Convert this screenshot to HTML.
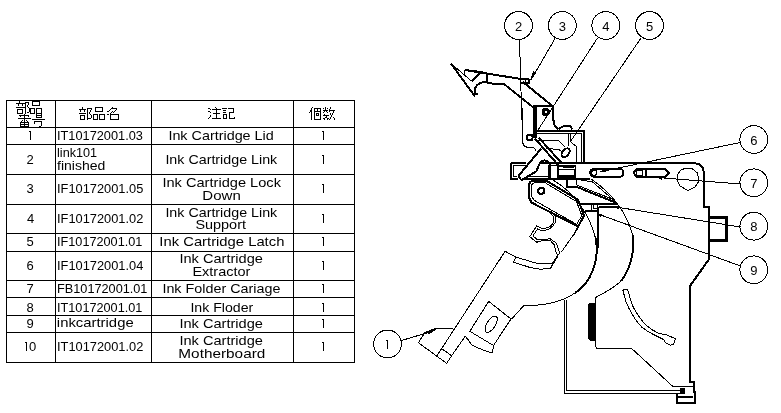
<!DOCTYPE html>
<html><head><meta charset="utf-8"><style>
html,body{margin:0;padding:0;background:#fff;width:781px;height:413px;overflow:hidden}
svg{display:block;will-change:transform}
text{font-family:"Liberation Sans",sans-serif;font-size:13px;fill:#000}
</style></head><body>
<svg width="781" height="413" viewBox="0 0 781 413">
<g fill="#000" shape-rendering="crispEdges">
<rect x="6" y="100" width="1" height="263"/>
<rect x="55" y="100" width="1" height="263"/>
<rect x="151" y="100" width="1" height="263"/>
<rect x="293" y="100" width="1" height="263"/>
<rect x="354" y="100" width="1" height="263"/>
<rect x="6" y="100" width="349" height="1"/>
<rect x="6" y="127" width="349" height="1"/>
<rect x="6" y="144" width="349" height="1"/>
<rect x="6" y="174" width="349" height="1"/>
<rect x="6" y="204" width="349" height="1"/>
<rect x="6" y="233" width="349" height="1"/>
<rect x="6" y="251" width="349" height="1"/>
<rect x="6" y="280" width="349" height="1"/>
<rect x="6" y="297" width="349" height="1"/>
<rect x="6" y="315" width="349" height="1"/>
<rect x="6" y="332" width="349" height="1"/>
<rect x="6" y="362" width="349" height="1"/>
<rect x="82" y="107" width="1" height="2"/>
<rect x="79" y="109" width="7" height="1"/>
<rect x="80" y="110" width="1" height="2"/>
<rect x="84" y="110" width="1" height="2"/>
<rect x="79" y="113" width="7" height="1"/>
<rect x="80" y="115" width="1" height="5"/>
<rect x="84" y="115" width="1" height="5"/>
<rect x="80" y="115" width="5" height="1"/>
<rect x="80" y="119" width="5" height="1"/>
<rect x="87" y="108" width="1" height="12"/>
<rect x="87" y="108" width="4" height="1"/>
<rect x="91" y="108" width="1" height="2"/>
<rect x="90" y="110" width="1" height="2"/>
<rect x="89" y="112" width="1" height="2"/>
<rect x="90" y="114" width="1" height="1"/>
<rect x="91" y="115" width="1" height="3"/>
<rect x="90" y="118" width="1" height="1"/>
<rect x="88" y="118" width="2" height="1"/>
<rect x="95" y="107" width="8" height="1"/>
<rect x="95" y="107" width="1" height="5"/>
<rect x="102" y="107" width="1" height="5"/>
<rect x="95" y="111" width="8" height="1"/>
<rect x="93" y="114" width="5" height="1"/>
<rect x="93" y="114" width="1" height="6"/>
<rect x="97" y="114" width="1" height="6"/>
<rect x="93" y="119" width="5" height="1"/>
<rect x="99" y="114" width="6" height="1"/>
<rect x="99" y="114" width="1" height="6"/>
<rect x="104" y="114" width="1" height="6"/>
<rect x="99" y="119" width="6" height="1"/>
<rect x="112" y="107" width="1" height="1"/>
<rect x="111" y="108" width="1" height="1"/>
<rect x="110" y="109" width="1" height="1"/>
<rect x="109" y="110" width="1" height="1"/>
<rect x="112" y="108" width="5" height="1"/>
<rect x="116" y="109" width="1" height="1"/>
<rect x="115" y="110" width="1" height="1"/>
<rect x="114" y="111" width="1" height="1"/>
<rect x="107" y="111" width="2" height="1"/>
<rect x="112" y="111" width="1" height="1"/>
<rect x="113" y="112" width="1" height="1"/>
<rect x="111" y="112" width="1" height="1"/>
<rect x="110" y="113" width="1" height="1"/>
<rect x="107" y="114" width="2" height="1"/>
<rect x="110" y="114" width="9" height="1"/>
<rect x="110" y="114" width="1" height="6"/>
<rect x="118" y="114" width="1" height="6"/>
<rect x="110" y="119" width="9" height="1"/>
<rect x="208" y="108" width="2" height="1"/>
<rect x="210" y="109" width="1" height="1"/>
<rect x="208" y="111" width="2" height="1"/>
<rect x="210" y="112" width="1" height="1"/>
<rect x="208" y="118" width="1" height="1"/>
<rect x="209" y="117" width="1" height="1"/>
<rect x="210" y="115" width="1" height="2"/>
<rect x="215" y="107" width="1" height="1"/>
<rect x="216" y="108" width="1" height="1"/>
<rect x="212" y="109" width="9" height="1"/>
<rect x="216" y="109" width="1" height="10"/>
<rect x="213" y="113" width="7" height="1"/>
<rect x="212" y="118" width="9" height="1"/>
<rect x="222" y="108" width="5" height="1"/>
<rect x="223" y="110" width="3" height="1"/>
<rect x="223" y="112" width="3" height="1"/>
<rect x="223" y="114" width="4" height="1"/>
<rect x="223" y="114" width="1" height="5"/>
<rect x="226" y="114" width="1" height="5"/>
<rect x="223" y="118" width="4" height="1"/>
<rect x="228" y="108" width="6" height="1"/>
<rect x="233" y="108" width="1" height="5"/>
<rect x="229" y="112" width="5" height="1"/>
<rect x="229" y="112" width="1" height="7"/>
<rect x="229" y="118" width="5" height="1"/>
<rect x="234" y="117" width="1" height="2"/>
<rect x="312" y="107" width="1" height="1"/>
<rect x="311" y="108" width="1" height="2"/>
<rect x="310" y="110" width="1" height="2"/>
<rect x="309" y="112" width="1" height="1"/>
<rect x="311" y="110" width="1" height="10"/>
<rect x="314" y="108" width="7" height="1"/>
<rect x="314" y="108" width="1" height="12"/>
<rect x="320" y="108" width="1" height="12"/>
<rect x="314" y="119" width="7" height="1"/>
<rect x="315" y="111" width="5" height="1"/>
<rect x="317" y="109" width="1" height="3"/>
<rect x="316" y="113" width="3" height="1"/>
<rect x="316" y="113" width="1" height="3"/>
<rect x="318" y="113" width="1" height="3"/>
<rect x="316" y="115" width="3" height="1"/>
<rect x="323" y="108" width="1" height="1"/>
<rect x="327" y="108" width="1" height="1"/>
<rect x="325" y="107" width="1" height="4"/>
<rect x="323" y="110" width="5" height="1"/>
<rect x="324" y="111" width="1" height="1"/>
<rect x="326" y="111" width="1" height="1"/>
<rect x="323" y="112" width="1" height="1"/>
<rect x="327" y="112" width="1" height="1"/>
<rect x="324" y="114" width="1" height="1"/>
<rect x="323" y="115" width="6" height="1"/>
<rect x="326" y="115" width="1" height="3"/>
<rect x="325" y="117" width="1" height="1"/>
<rect x="323" y="118" width="2" height="1"/>
<rect x="327" y="118" width="2" height="1"/>
<rect x="324" y="119" width="1" height="1"/>
<rect x="327" y="119" width="1" height="1"/>
<rect x="330" y="107" width="1" height="2"/>
<rect x="329" y="109" width="1" height="3"/>
<rect x="330" y="110" width="5" height="1"/>
<rect x="333" y="111" width="1" height="2"/>
<rect x="332" y="113" width="1" height="2"/>
<rect x="330" y="113" width="1" height="2"/>
<rect x="331" y="115" width="1" height="2"/>
<rect x="330" y="117" width="1" height="2"/>
<rect x="333" y="117" width="1" height="1"/>
<rect x="329" y="119" width="1" height="1"/>
<rect x="334" y="118" width="1" height="2"/>
<rect x="19" y="101" width="1" height="2"/>
<rect x="16" y="103" width="9" height="1"/>
<rect x="18" y="104" width="1" height="2"/>
<rect x="22" y="104" width="1" height="2"/>
<rect x="16" y="107" width="9" height="1"/>
<rect x="17" y="109" width="6" height="1"/>
<rect x="17" y="113" width="6" height="1"/>
<rect x="17" y="109" width="1" height="5"/>
<rect x="22" y="109" width="1" height="5"/>
<rect x="25" y="102" width="1" height="12"/>
<rect x="25" y="102" width="4" height="1"/>
<rect x="28" y="103" width="1" height="2"/>
<rect x="27" y="105" width="1" height="2"/>
<rect x="28" y="107" width="1" height="1"/>
<rect x="29" y="108" width="1" height="4"/>
<rect x="27" y="112" width="2" height="1"/>
<rect x="32" y="101" width="8" height="1"/>
<rect x="32" y="105" width="8" height="1"/>
<rect x="32" y="101" width="1" height="5"/>
<rect x="39" y="101" width="1" height="5"/>
<rect x="30" y="108" width="5" height="1"/>
<rect x="30" y="108" width="1" height="6"/>
<rect x="34" y="108" width="1" height="6"/>
<rect x="30" y="113" width="5" height="1"/>
<rect x="36" y="108" width="6" height="1"/>
<rect x="36" y="108" width="1" height="9"/>
<rect x="41" y="108" width="1" height="9"/>
<rect x="36" y="113" width="6" height="1"/>
<rect x="36" y="115" width="6" height="1"/>
<rect x="36" y="117" width="6" height="1"/>
<rect x="19" y="115" width="10" height="1"/>
<rect x="20" y="116" width="1" height="1"/>
<rect x="28" y="116" width="1" height="1"/>
<rect x="18" y="118" width="13" height="1"/>
<rect x="24" y="114" width="1" height="8"/>
<rect x="22" y="120" width="1" height="1"/>
<rect x="21" y="121" width="1" height="1"/>
<rect x="26" y="120" width="1" height="1"/>
<rect x="27" y="121" width="1" height="1"/>
<rect x="20" y="122" width="9" height="1"/>
<rect x="20" y="122" width="1" height="5"/>
<rect x="28" y="122" width="1" height="5"/>
<rect x="20" y="124" width="9" height="1"/>
<rect x="24" y="122" width="1" height="5"/>
<rect x="20" y="126" width="9" height="1"/>
<rect x="32" y="119" width="13" height="1"/>
<rect x="34" y="121" width="8" height="1"/>
<rect x="34" y="121" width="1" height="3"/>
<rect x="41" y="122" width="1" height="4"/>
<rect x="39" y="126" width="2" height="1"/>
<rect x="30" y="131" width="1" height="9"/><rect x="29" y="131" width="1" height="1"/>
<rect x="323" y="131" width="1" height="9"/><rect x="322" y="131" width="1" height="1"/>
<rect x="323" y="155" width="1" height="9"/><rect x="322" y="155" width="1" height="1"/>
<rect x="323" y="184" width="1" height="9"/><rect x="322" y="184" width="1" height="1"/>
<rect x="323" y="214" width="1" height="9"/><rect x="322" y="214" width="1" height="1"/>
<rect x="323" y="237" width="1" height="9"/><rect x="322" y="237" width="1" height="1"/>
<rect x="323" y="261" width="1" height="9"/><rect x="322" y="261" width="1" height="1"/>
<rect x="323" y="284" width="1" height="9"/><rect x="322" y="284" width="1" height="1"/>
<rect x="323" y="303" width="1" height="9"/><rect x="322" y="303" width="1" height="1"/>
<rect x="323" y="319" width="1" height="9"/><rect x="322" y="319" width="1" height="1"/>
<rect x="26" y="342" width="1" height="9"/><rect x="25" y="342" width="1" height="1"/>
<rect x="323" y="342" width="1" height="9"/><rect x="322" y="342" width="1" height="1"/>
</g>
<g>
<text transform="translate(168.39,140) scale(1.1064,1)">Ink Cartridge Lid</text>
<text transform="translate(165.40,164) scale(1.0990,1)">Ink Cartridge Link</text>
<text transform="translate(162.38,187) scale(1.1250,1)">Ink Cartridge Lock</text>
<text transform="translate(202.34,200) scale(1.1562,1)">Down</text>
<text transform="translate(165.40,217) scale(1.0990,1)">Ink Cartridge Link</text>
<text transform="translate(195.39,229) scale(1.1111,1)">Support</text>
<text transform="translate(159.36,246) scale(1.1389,1)">Ink Cartridge Latch</text>
<text transform="translate(179.38,263) scale(1.1233,1)">Ink Cartridge</text>
<text transform="translate(192.38,276) scale(1.1176,1)">Extractor</text>
<text transform="translate(162.40,293) scale(1.1038,1)">Ink Folder Cariage</text>
<text transform="translate(190.41,312) scale(1.0877,1)">Ink Floder</text>
<text transform="translate(179.38,328) scale(1.1233,1)">Ink Cartridge</text>
<text transform="translate(179.38,345) scale(1.1233,1)">Ink Cartridge</text>
<text transform="translate(178.32,358) scale(1.1806,1)">Motherboard</text>
<text transform="translate(57.02,140) scale(0.9826,1)">IT10172001.03</text>
<text transform="translate(57.02,156.5) scale(0.9750,1)">link101</text>
<text transform="translate(57.00,169.5) scale(1.0795,1)">finished</text>
<text transform="translate(57.01,193) scale(0.9884,1)">IF10172001.05</text>
<text transform="translate(57.01,223) scale(0.9884,1)">IF10172001.02</text>
<text transform="translate(57.02,246) scale(0.9767,1)">IF10172001.01</text>
<text transform="translate(57.01,270) scale(0.9884,1)">IF10172001.04</text>
<text transform="translate(57.02,293) scale(0.9780,1)">FB10172001.01</text>
<text transform="translate(57.02,312) scale(0.9767,1)">IT10172001.01</text>
<text transform="translate(56.86,327) scale(1.1439,1)">inkcartridge</text>
<text transform="translate(57.01,351) scale(0.9884,1)">IT10172001.02</text>
<text x="26.50" y="164">2</text>
<text x="26.50" y="193">3</text>
<text x="27.00" y="223">4</text>
<text x="26.50" y="246">5</text>
<text x="26.50" y="270">6</text>
<text x="26.50" y="293">7</text>
<text x="26.50" y="312">8</text>
<text x="26.50" y="328">9</text>
<text x="29.00" y="351">0</text>
</g>
<g fill="none" stroke="#000" stroke-linecap="butt" shape-rendering="crispEdges">
<circle cx="518.5" cy="25.5" r="13.9" stroke-width="1" fill="none"/>
<text x="518.5" y="30.5" text-anchor="middle" stroke="none" style="font-size:13px">2</text>
<circle cx="562.3" cy="25.5" r="13.9" stroke-width="1" fill="none"/>
<text x="562.3" y="30.5" text-anchor="middle" stroke="none" style="font-size:13px">3</text>
<circle cx="605.8" cy="25.5" r="13.9" stroke-width="1" fill="none"/>
<text x="605.8" y="30.5" text-anchor="middle" stroke="none" style="font-size:13px">4</text>
<circle cx="649.5" cy="25.5" r="13.9" stroke-width="1" fill="none"/>
<text x="649.5" y="30.5" text-anchor="middle" stroke="none" style="font-size:13px">5</text>
<circle cx="753.8" cy="139.5" r="13.9" stroke-width="1" fill="none"/>
<text x="753.8" y="144.5" text-anchor="middle" stroke="none" style="font-size:13px">6</text>
<circle cx="753.8" cy="182.8" r="13.9" stroke-width="1" fill="none"/>
<text x="753.8" y="187.8" text-anchor="middle" stroke="none" style="font-size:13px">7</text>
<circle cx="753.8" cy="226.2" r="13.9" stroke-width="1" fill="none"/>
<text x="753.8" y="231.2" text-anchor="middle" stroke="none" style="font-size:13px">8</text>
<circle cx="753.8" cy="269.8" r="13.9" stroke-width="1" fill="none"/>
<text x="753.8" y="274.8" text-anchor="middle" stroke="none" style="font-size:13px">9</text>
<circle cx="387.5" cy="344" r="13.9" stroke-width="1" fill="none"/>
<rect x="387" y="340" width="1" height="9" fill="#000" stroke="none"/><rect x="386" y="340" width="1" height="1" fill="#000" stroke="none"/>
<path d="M555,38.5 L531,80" stroke-width="1" fill="none"/>
<path d="M530,80.5 L533.40,70.88 L536.83,72.93 Z" fill="#000" stroke="none"/>
<path d="M597.5,38 L538,130" stroke-width="1" fill="none"/>
<path d="M641,38 L570.5,141.5" stroke-width="1" fill="none"/>
<path d="M740,142.5 L604,171" stroke-width="1" fill="none"/>
<path d="M600,171.5 L605.51,168.52 L606.24,172.05 Z" fill="#000" stroke="none"/>
<path d="M740.5,184 L657,177.5" stroke-width="1" fill="none"/>
<path d="M656,177.5 L662.12,176.17 L661.84,179.75 Z" fill="#000" stroke="none"/>
<path d="M740.5,227 L616,207" stroke-width="1" fill="none"/>
<path d="M614,206.8 L619.22,205.81 L618.65,209.37 Z" fill="#000" stroke="none"/>
<path d="M740.5,266 L598,214" stroke-width="1" fill="none"/>
<path d="M597,213.6 L602.31,213.62 L601.08,217.01 Z" fill="#000" stroke="none"/>
<path d="M401.5,340.5 L430,332" stroke-width="1" fill="none"/>
<path d="M435,330.6 L427.84,334.59 L426.82,331.14 Z" fill="#000" stroke="none"/>
<path d="M451,63.5 L475,96.5" stroke-width="2" fill="none"/>
<path d="M451,63.5 L471.6,81.1" stroke-width="1" fill="none"/>
<path d="M465,70 L481.4,72 L471.6,81.1" stroke-width="2" fill="none"/>
<path d="M465,70 Q463.5,72 465,74.5" stroke-width="1" fill="none"/>
<path d="M465,70 L521,79" stroke-width="2" fill="none"/>
<path d="M521,78.6 L529.3,79.6 L529.3,83.2 L521.5,82.6" stroke-width="2" fill="none"/>
<path d="M525.2,79 L525.2,83" stroke-width="1" fill="none"/>
<path d="M486.8,73.5 L486.8,82.5" stroke-width="2" fill="none"/>
<path d="M485,73.2 L490,73.8" stroke-width="1" fill="none"/>
<path d="M485,82.8 L490,82.8" stroke-width="1" fill="none"/>
<path d="M487,83.3 L504,84 L534,108" stroke-width="2" fill="none"/>
<path d="M486,82 C479,82 475,86 475,90 L475,93.5 L478,94" stroke-width="2" fill="none"/>
<path d="M523,82 L553,106.5" stroke-width="2" fill="none"/>
<path d="M519.5,39 L521.5,108 L523,143.5 Q524,147 528,147.3 L532.7,147.3 Q535,148 536,150.6" stroke-width="1" fill="none"/>
<path d="M521.5,108 L522,120" stroke-width="2" fill="none"/>
<circle cx="529.6" cy="137.5" r="3" stroke-width="2" fill="none"/>
<path d="M535.2,105.3 L535.2,138" stroke-width="4" fill="none"/>
<path d="M534,106 L552.5,106" stroke-width="2" fill="none"/>
<circle cx="545.8" cy="112" r="2.6" stroke-width="3" fill="none"/>
<path d="M553.2,106 L553.6,124 L558.5,129.5" stroke-width="2" fill="none"/>
<path d="M558.5,129.5 C561,127 565,125.5 568,125.5 C570,125.5 571.5,127 572,129.5" stroke-width="2" fill="none"/>
<path d="M534,130.8 L584,130.8 L584,162.5" stroke-width="2" fill="none"/>
<path d="M537,133.7 L581,133.7 L581,161.5" stroke-width="1" fill="none"/>
<path d="M568.2,133.7 L568.2,146.4" stroke-width="1" fill="none"/>
<path d="M570.6,133.7 L570.6,141.8 L576.2,146.4 L576.2,161.5" stroke-width="1" fill="none"/>
<path d="M537,140.8 L558.8,140.8 L565.4,147.3" stroke-width="1" fill="none"/>
<path d="M546.3,148.6 L558.3,149.3 L561,151" stroke-width="1" fill="none"/>
<ellipse cx="565.6" cy="152.8" rx="3.2" ry="5" transform="rotate(40 565.6 152.8)" stroke-width="2" fill="none"/>
<path d="M534.8,138.5 L559.5,166.5" stroke-width="2" fill="none"/>
<path d="M538.6,137.5 L562.5,164" stroke-width="2" fill="none"/>
<path d="M518.3,176 L541,148.9" stroke-width="2" fill="none"/>
<path d="M518.3,176 L521.2,179.9" stroke-width="2" fill="none"/>
<path d="M520.8,180.5 L536.4,171.3 L538.9,165.2 Q541,160.4 544.9,160.4 Q549.5,161 550.5,166" stroke-width="2" fill="none"/>
<path d="M549.8,165 L549.8,177.5" stroke-width="3" fill="none"/>
<path d="M557.7,165.8 L575.5,165.8" stroke-width="2" fill="none"/>
<path d="M562.8,167.5 L573.8,167.5" stroke-width="1" fill="none"/>
<path d="M558.5,169.5 L574.5,169.5 L574.5,175.4 L558.5,175.4 L558.5,169.5" stroke-width="1" fill="none"/>
<path d="M557.7,177.2 L575.5,177.2" stroke-width="2" fill="none"/>
<path d="M557.7,165 L557.7,178" stroke-width="2" fill="none"/>
<path d="M575.5,165 L575.5,178" stroke-width="1" fill="none"/>
<path d="M511,163 L525.6,163 M541,163 L693.5,163 Q703.5,163.5 703.7,172 L703.7,206.5 L708.5,206.5 L708.5,260" stroke-width="2" fill="none"/>
<path d="M511,163 L511,179.3 L518,179.3" stroke-width="2" fill="none"/>
<path d="M522.5,179.3 L590,179.3" stroke-width="2" fill="none"/>
<path d="M513.5,164.9 L513.5,176.6 L517,176.6" stroke-width="1" fill="none"/>
<path d="M529.5,176.2 L549,176.2" stroke-width="1" fill="none"/>
<path d="M513.5,165.3 L526,165.3" stroke-width="1" fill="none"/>
<path d="M549,165.8 L557,165.8" stroke-width="1" fill="none"/>
<path d="M594.2,168.8 L619.5,168.8 A4,4 0 0 1 619.5,176.8 L594.2,176.8 A4,4 0 0 1 594.2,168.8 Z" stroke-width="2" fill="none"/>
<circle cx="594.3" cy="172.8" r="2.6" stroke-width="1" fill="none"/>
<path d="M637,168.8 L665,168.8 L669.3,172.8 L665,177 L637,177 L633.6,172.8 Z" stroke-width="2" fill="none"/>
<path d="M636.8,170.5 L642.4,170.5 L642.4,175.6 L636.8,175.6 L636.8,170.5" stroke-width="1" fill="none"/>
<path d="M646.2,169.5 L646.2,176.5" stroke-width="2" fill="none"/>
<path d="M681,170 L686,168 L692,168.5 L697.5,173 L699,181 L695,187 L688,190.5 L680,186 L677,180 L678,174 Z" stroke-width="1" fill="none"/>
<path d="M709,217 L726.5,217 L726.5,240.5 L709,240.5" stroke-width="3" fill="none"/>
<path d="M708.5,260 L690.3,285.5 L690.3,381.7 L693.8,381.7 L693.8,392 L694.5,392 L694.5,403 L677.2,403 L677.2,393.5" stroke-width="2" fill="none"/>
<path d="M678,396.7 L692.5,396.7" stroke-width="2" fill="none"/>
<path d="M564,300.3 L564,393.3 L681,393.3" stroke-width="1" fill="none"/>
<path d="M566.8,300.3 L566.8,390.4 L681,390.4" stroke-width="1" fill="none"/>
<path d="M680,388 L685,388 L685,394 L680,394 Z" stroke-width="0" fill="#000"/>
<path d="M597.5,296.5 L595.5,298 L595.5,345.5 Q596,348.8 598.5,348.8 L632,348.8 L673.1,386.7 L692.5,386.7" stroke-width="1" fill="none"/>
<path d="M589.5,303.6 L594.5,303.6 L594.5,340.5 L590.5,340.5 Q588.5,339 588.5,336 L588.5,307 Q588.5,304 589.5,303.6 Z" stroke-width="1" fill="#000"/>
<path d="M622.9,290.1 L624.5,296.5 L626,301.9 L629,308.5 L632.3,314.5 L636.5,321 L641.8,327.1 L648,331.5 L654.4,335 L663.8,339.7 L665.4,342.5 L670.1,345.2 L673.3,344.4 L675.6,338.9 L667,335 L659.1,333.4 L651.5,329.5 L644.9,324 L640,318 L635.5,311.3 L632.5,305.5 L630.7,300.3 L627.6,289.3 L622.9,290.1" stroke-width="1" fill="none"/>
<path d="M553,180 C575,193 590,215 596,240" stroke-width="1" fill="none"/>
<path d="M596,240 C599,260 592,282 575,293" stroke-width="2" fill="none"/>
<path d="M575,293 C560,303 540,306 524,305.3" stroke-width="1" fill="none"/>
<path d="M591,179 C612,193 625.5,210 632.8,235" stroke-width="1" fill="none"/>
<path d="M632.8,235 C634.8,248 631.5,268 621,281" stroke-width="2" fill="none"/>
<path d="M621,281 C613,289 603,293 595.9,297.4" stroke-width="1" fill="none"/>
<path d="M597.3,237.8 L597.3,248" stroke-width="2" fill="none"/>
<path d="M598.2,207 L598.2,248" stroke-width="2" fill="none"/>
<path d="M581.3,203.7 L617.7,203.7" stroke-width="2" fill="none"/>
<path d="M598.7,207.3 L618.7,207.3" stroke-width="2" fill="none"/>
<path d="M585.2,211 L597.8,211" stroke-width="2" fill="none"/>
<path d="M591.5,203.7 L591.5,211" stroke-width="1" fill="none"/>
<path d="M593.5,204.7 L597.2,204.7 L597.2,208.8 L593.5,208.8 L593.5,204.7" stroke-width="1" fill="none"/>
<path d="M567.1,179.5 L567.1,187 L577,187 L616.5,203" stroke-width="2" fill="none"/>
<path d="M576.8,179.5 L576.8,185 L612,199" stroke-width="1" fill="none"/>
<path d="M581,180.5 L592,181.5 L616.5,202.5" stroke-width="1" fill="none"/>
<path d="M531.6,202.6 L528.7,197 L528.7,186 Q529,180.5 535,180.5 L546,180.5 L549,182.3 L578.1,199.7 L584,215.7 L578.1,226.5 Z" stroke-width="2" fill="none"/>
<path d="M534.5,200.4 L531,196 L531,187 Q531.5,182.7 536,182.7 L545.5,182.7 L548,184.5 L576.5,201.5 L581.8,215.7 L576.6,224.4 Z" stroke-width="1" fill="none"/>
<path d="M578.1,226.5 L573.7,235" stroke-width="1" fill="none"/>
<circle cx="541.3" cy="190.8" r="3.1" stroke-width="2" fill="none"/>
<path d="M547.6,211.3 Q556,216 553.3,222.5 Q551,227 546,228 L540.7,228 L536.8,225.7 L529.7,236.7 L536.8,242.2 L542.3,240.6 L550.8,241 L554.4,245.1 L556,252.3 L558,255.9 L553.4,263.6 L550.3,268.7" stroke-width="1" fill="none"/>
<path d="M550.5,210.6 Q558,216 554.9,223 Q552,228.5 546,230 L540.7,230.4 L537.6,228.8 L532.9,235.9 L537.6,239.8 L550.3,238.8 L556.5,243.3 L559.5,252.8 L558.5,255.5" stroke-width="1" fill="none"/>
<path d="M561.5,251.9 L578.1,228.2" stroke-width="1" fill="none"/>
<path d="M500,259.6 L505.1,251.2 L515.4,257 L537.1,263.4 L552.5,263.4 L557.6,255.7" stroke-width="1" fill="none"/>
<path d="M515.4,258.3 L513.4,262.1 L529.4,267.3 L539.7,269.2 L550.6,268.5 L552.5,263.4" stroke-width="1" fill="none"/>
<path d="M505.1,251.2 L436.9,355.8" stroke-width="1" fill="none"/>
<path d="M524,305.3 L511.6,319" stroke-width="1" fill="none"/>
<path d="M441.8,348.7 L451.6,355.8" stroke-width="1" fill="none"/>
<path d="M418.4,342.7 L446.7,363.4 L451.6,355.8 L465,336.5" stroke-width="1" fill="none"/>
<path d="M465.2,336.4 L468,339.4 Q471,345 474,346.1 Q482,350 491.3,352.9 L493.2,350" stroke-width="1" fill="none"/>
<path d="M488.7,301.4 L511,319 L493.5,345.5 L469.8,331.3 L488.7,301.4" stroke-width="1" fill="none"/>
<path d="M493.5,345.5 L492.5,353" stroke-width="1" fill="none"/>
<ellipse cx="491.2" cy="324.2" rx="4.2" ry="9.3" transform="rotate(32 491.2 324.2)" stroke-width="1" fill="none"/>
<path d="M418.4,342.7 L424.3,333.4 Q430,330 436,329 L453.5,328.6" stroke-width="1" fill="none"/>
<path d="M424.5,333 L436,329" stroke-width="2" fill="none"/>
</g>
</svg>
</body></html>
